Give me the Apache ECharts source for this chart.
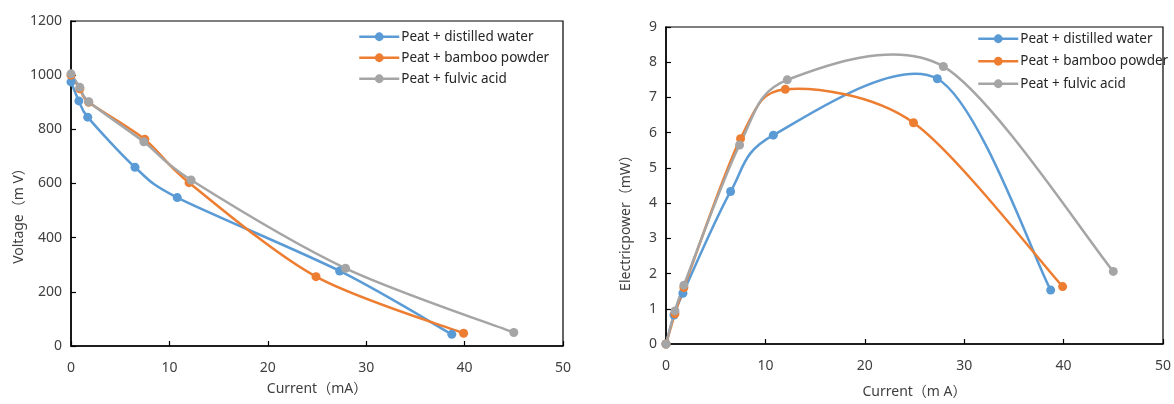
<!DOCTYPE html>
<html>
<head>
<meta charset="utf-8">
<script src="https://cdn.jsdelivr.net/npm/echarts@6/dist/echarts.min.js"></script>
<style>
html,body{margin:0;padding:0;background:#fff;}
#c{width:1174px;height:404px;}
</style>
</head>
<body>
<div id="c"></div>
<script>
var seriesNames = ['Peat + distilled water', 'Peat + bamboo powder', 'Peat + fulvic acid'];
var currentWater = [0, 0.8, 1.7, 6.5, 10.8, 27.3, 38.7];
var currentBamboo = [0, 0.9, 1.8, 7.5, 12.0, 24.9, 39.9];
var currentFulvic = [0, 0.9, 1.8, 7.4, 12.2, 27.9, 45.0];
var voltageWater = [975, 905, 845, 660, 548, 277, 43];
var voltageBamboo = [1000, 950, 900, 763, 603, 256, 47];
var voltageFulvic = [1005, 955, 902, 754, 613, 287, 50];
var powerWater = [0, 0.82, 1.44, 4.33, 5.93, 7.53, 1.53];
var powerBamboo = [0, 0.86, 1.6, 5.83, 7.23, 6.28, 1.63];
var powerFulvic = [0, 0.94, 1.67, 5.65, 7.5, 7.88, 2.06];
var colors = ['#5B9BD5', '#ED7D31', '#A5A5A5'];

function pairs(xs, ys) { return xs.map(function (x, i) { return [x, ys[i]]; }); }

var FONT = '"Noto Sans", "Noto Sans CJK SC", sans-serif';
var TXT = '#404040';

function xAxisCfg(gi, nameGap) {
  return {
    type: 'value', gridIndex: gi, min: 0, max: 50, interval: 10,
    name: gi === 0 ? 'Current（mA）' : 'Current（m A）',
    nameLocation: 'middle', nameGap: nameGap,
    nameTextStyle: { fontFamily: FONT, fontSize: 14, color: TXT },
    axisLine: { show: true, onZero: false, lineStyle: { color: '#000', width: 1.5 } },
    axisTick: { show: true, inside: true, length: 5, lineStyle: { color: '#000', width: 1.2 } },
    axisLabel: { fontFamily: FONT, fontSize: 14, color: TXT, margin: 15 },
    splitLine: { show: false }
  };
}
function yAxisCfg(gi, max, interval, name, nameGap, pad) {
  return {
    type: 'value', gridIndex: gi, min: 0, max: max, interval: interval,
    name: name, nameLocation: 'middle', nameGap: nameGap,
    nameTextStyle: { fontFamily: FONT, fontSize: 14, color: TXT, padding: [0, pad, 0, 0] },
    axisLine: { show: true, lineStyle: { color: '#000', width: 1.5 } },
    axisTick: { show: true, inside: true, length: 5, lineStyle: { color: '#000', width: 1.2 } },
    axisLabel: { fontFamily: FONT, fontSize: 14, color: TXT, margin: 9, formatter: function (v) { return String(v); } },
    splitLine: { show: false }
  };
}
// Markers (and legend source) – the line itself is drawn by the custom series below
function markerSeries(name, idx, xi, data) {
  return {
    name: name, type: 'line', xAxisIndex: xi, yAxisIndex: xi, data: data,
    symbol: 'circle', symbolSize: 9, showSymbol: true,
    lineStyle: { color: colors[idx], width: 0, opacity: 0 },
    itemStyle: { color: colors[idx] },
    z: 4 + idx
  };
}
// Excel-like smooth curve (cardinal bezier through the data points, in pixel space)
var TANGENT = 0.15;
function curveSeries(name, idx, xi, data) {
  return {
    name: name, type: 'custom', xAxisIndex: xi, yAxisIndex: xi, data: data,
    z: 2 + idx / 10,
    silent: true,
    renderItem: function (params, api) {
      var i = params.dataIndexInside;
      var n = data.length;
      if (i >= n - 1) return null;
      var p0 = api.coord(data[Math.max(i - 1, 0)]);
      var p1 = api.coord(data[i]);
      var p2 = api.coord(data[i + 1]);
      var p3 = api.coord(data[Math.min(i + 2, n - 1)]);
      var d12 = Math.hypot(p2[0] - p1[0], p2[1] - p1[1]);
      function handle(a, b, lim) {
        var tx = (b[0] - a[0]) * TANGENT, ty = (b[1] - a[1]) * TANGENT;
        var len = Math.hypot(tx, ty);
        var k = len > lim && len > 0 ? lim / len : 1;
        return [tx * k, ty * k];
      }
      var t1 = handle(p0, p2, d12 * 0.6);
      var t2 = handle(p1, p3, d12 * 0.6);
      return {
        type: 'bezierCurve',
        shape: {
          x1: p1[0], y1: p1[1], x2: p2[0], y2: p2[1],
          cpx1: p1[0] + t1[0], cpy1: p1[1] + t1[1],
          cpx2: p2[0] - t2[0], cpy2: p2[1] - t2[1]
        },
        style: { stroke: colors[idx], lineWidth: 2.5, fill: null, lineCap: 'round' }
      };
    }
  };
}
function legendCfg(left, top, gap) {
  return {
    orient: 'vertical', left: left, top: top, padding: 0,
    itemWidth: 40, itemHeight: 11, itemGap: gap,
    data: seriesNames,
    lineStyle: { width: 2.5, opacity: 1 },
    textStyle: { fontFamily: FONT, fontSize: 13.5, color: '#262626', padding: [0, 0, 0, -3] }
  };
}

var chart = echarts.init(document.getElementById('c'), null, { renderer: 'canvas' });
chart.setOption({
  animation: false,
  backgroundColor: '#fff',
  color: colors,
  grid: [
    { left: 71, top: 21, width: 492, height: 325, show: true, borderColor: '#000', borderWidth: 1.2, backgroundColor: 'transparent' },
    { left: 666, top: 27, width: 501, height: 324, show: true, borderColor: '#000', borderWidth: 1.2, backgroundColor: 'transparent' }
  ],
  legend: [legendCfg(358, 30, 7.5), legendCfg(977, 32, 9)],
  xAxis: [xAxisCfg(0, 36), xAxisCfg(1, 41)],
  yAxis: [yAxisCfg(0, 1200, 200, 'Voltage（m V）', 32, 58), yAxisCfg(1, 9, 1, 'Electricpower（mW）', 33, 68)],
  series: [
    markerSeries(seriesNames[0], 0, 0, pairs(currentWater, voltageWater)),
    markerSeries(seriesNames[1], 1, 0, pairs(currentBamboo, voltageBamboo)),
    markerSeries(seriesNames[2], 2, 0, pairs(currentFulvic, voltageFulvic)),
    markerSeries(seriesNames[0], 0, 1, pairs(currentWater, powerWater)),
    markerSeries(seriesNames[1], 1, 1, pairs(currentBamboo, powerBamboo)),
    markerSeries(seriesNames[2], 2, 1, pairs(currentFulvic, powerFulvic)),
    curveSeries(seriesNames[0], 0, 0, pairs(currentWater, voltageWater)),
    curveSeries(seriesNames[1], 1, 0, pairs(currentBamboo, voltageBamboo)),
    curveSeries(seriesNames[2], 2, 0, pairs(currentFulvic, voltageFulvic)),
    curveSeries(seriesNames[0], 0, 1, pairs(currentWater, powerWater)),
    curveSeries(seriesNames[1], 1, 1, pairs(currentBamboo, powerBamboo)),
    curveSeries(seriesNames[2], 2, 1, pairs(currentFulvic, powerFulvic))
  ]
});
</script>
</body>
</html>
